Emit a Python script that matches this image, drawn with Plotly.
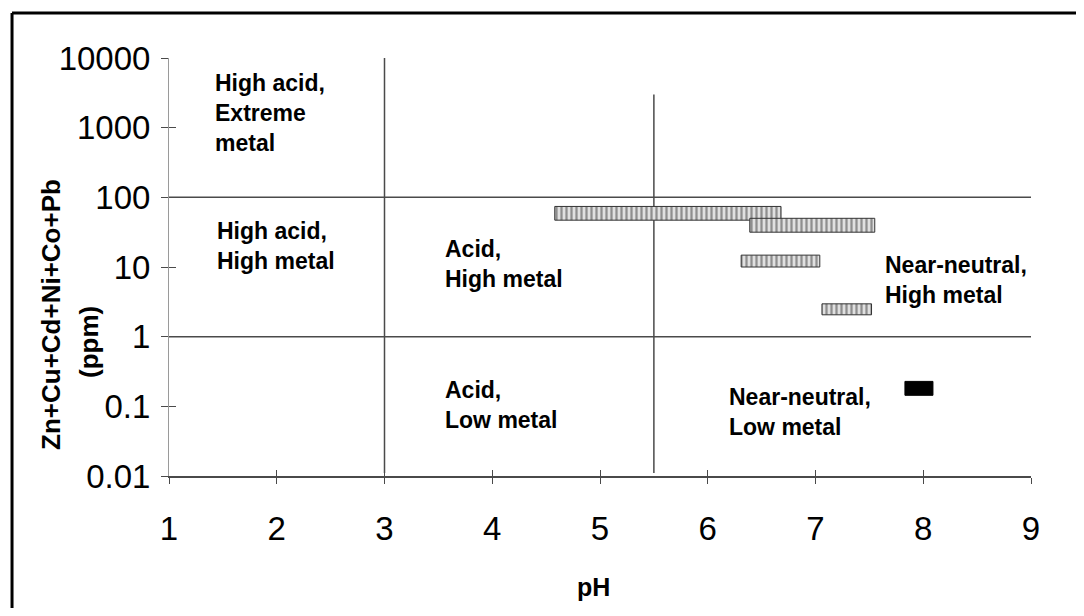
import math
import plotly.graph_objects as go

# ---- data ----
ph_low = [4.58, 6.39, 6.31, 7.06]
ph_high = [6.68, 7.55, 7.04, 7.52]
metal_low = [47, 31.6, 10, 2.06]
metal_high = [74, 50, 14.8, 2.96]

black_ph_low = [7.83]
black_ph_high = [8.09]
black_metal_low = [0.144]
black_metal_high = [0.228]

# region boundaries
vline_ph = [3, 5.5]
vline_top = [10000, 3000]
vline_bottom = [0.011, 0.011]
hline_metal = [1, 100]
hline_ph_start = [1, 1]
hline_ph_end = [9, 9]

region_labels = ["High acid,<br>Extreme<br>metal", "High acid,<br>High metal",
                 "Acid,<br>High metal", "Acid,<br>Low metal",
                 "Near-neutral,<br>Low metal", "Near-neutral,<br>High metal"]
region_ph = [1.41, 1.43, 3.54, 3.54, 6.18, 7.63]
region_metal = [1600, 20, 11, 0.105, 0.083, 6.5]

x_ticks = [1, 2, 3, 4, 5, 6, 7, 8, 9]
y_ticks = [0.01, 0.1, 1, 10, 100, 1000, 10000]
y_tick_text = ["0.01", "0.1", "1", "10", "100", "1000", "10000"]

y_title_lines = ["Zn+Cu+Cd+Ni+Co+Pb", "(ppm)"]
x_title = "pH"

FONT = "Liberation Sans, Arial, sans-serif"
LINE = "#4a4a4a"

fig = go.Figure()

# boundary lines
for x, t, b in zip(vline_ph, vline_top, vline_bottom):
    fig.add_trace(go.Scatter(x=[x, x], y=[b, t], mode="lines",
                             line=dict(color=LINE, width=1.5), hoverinfo="skip", showlegend=False))
for yv, xs, xe in zip(hline_metal, hline_ph_start, hline_ph_end):
    fig.add_trace(go.Scatter(x=[xs, xe], y=[yv, yv], mode="lines",
                             line=dict(color=LINE, width=1.5), hoverinfo="skip", showlegend=False))

# hatched range bars
for lo, hi, ml, mh in zip(ph_low, ph_high, metal_low, metal_high):
    fig.add_trace(go.Scatter(
        x=[lo, hi, hi, lo, lo], y=[ml, ml, mh, mh, ml], mode="lines",
        fill="toself", fillcolor="white",
        fillpattern=dict(shape="|", fgcolor="#3c3c3c", bgcolor="#e0e0e0", size=5, solidity=0.45),
        line=dict(color="#333333", width=1), hoverinfo="skip", showlegend=False))

for lo, hi, ml, mh in zip(black_ph_low, black_ph_high, black_metal_low, black_metal_high):
    fig.add_trace(go.Scatter(
        x=[lo, hi, hi, lo, lo], y=[ml, ml, mh, mh, ml], mode="lines",
        fill="toself", fillcolor="black",
        line=dict(color="black", width=1), hoverinfo="skip", showlegend=False))

# dummy trace for overlay axes (cross ticks)
fig.add_trace(go.Scatter(x=[1], y=[1], xaxis="x2", yaxis="y2", mode="markers",
                         marker=dict(opacity=0), hoverinfo="skip", showlegend=False))

for txt, x, y in zip(region_labels, region_ph, region_metal):
    fig.add_annotation(x=x, y=math.log10(y), text="<b>" + txt + "</b>", showarrow=False,
                       xanchor="left", yanchor="middle", align="left",
                       font=dict(family=FONT, size=23, color="black"))

fig.add_annotation(xref="paper", yref="paper", x=-0.1369, y=0.3876,
                   text="<b>" + y_title_lines[0] + "</b>", textangle=-90, showarrow=False,
                   xanchor="center", yanchor="middle",
                   font=dict(family=FONT, size=26, color="black"))
fig.add_annotation(xref="paper", yref="paper", x=-0.0928, y=0.3206,
                   text="<b>" + y_title_lines[1] + "</b>", textangle=-90, showarrow=False,
                   xanchor="center", yanchor="middle",
                   font=dict(family=FONT, size=26, color="black"))
fig.add_annotation(xref="paper", yref="paper", x=0.492, y=-0.2656,
                   text="<b>" + x_title + "</b>", showarrow=False, xanchor="center", yanchor="middle",
                   font=dict(family=FONT, size=25, color="black"))

fig.update_layout(
    width=1068, height=600,
    margin=dict(l=161, r=45, t=50, b=132),
    paper_bgcolor="white", plot_bgcolor="white",
    font=dict(family=FONT, color="black"),
    xaxis=dict(range=[1, 9], tickvals=x_ticks, showgrid=False, zeroline=False,
               showline=True, linecolor=LINE, linewidth=1.5,
               ticks="outside", ticklen=6, tickcolor=LINE, tickwidth=1,
               ticklabelstandoff=17,
               tickfont=dict(family=FONT, size=33, color="black")),
    yaxis=dict(type="log", range=[-2, 4], tickvals=y_ticks, ticktext=y_tick_text,
               showgrid=False, zeroline=False,
               showline=True, linecolor="#9a9a9a", linewidth=1,
               ticks="outside", ticklen=7, tickcolor=LINE, tickwidth=1,
               ticklabelstandoff=4,
               tickfont=dict(family=FONT, size=33, color="black")),
    xaxis2=dict(range=[1, 9], overlaying="x", tickvals=x_ticks, showticklabels=False,
                showgrid=False, zeroline=False, showline=False,
                ticks="inside", ticklen=6, tickcolor=LINE, tickwidth=1),
    yaxis2=dict(type="log", range=[-2, 4], overlaying="y", tickvals=y_ticks, showticklabels=False,
                showgrid=False, zeroline=False, showline=False,
                ticks="inside", ticklen=7, tickcolor=LINE, tickwidth=1),
    shapes=[
        dict(type="line", xref="paper", yref="paper", x0=-0.1821, x1=1.06, y0=1.1077, y1=1.1077,
             line=dict(color="black", width=3)),
        dict(type="line", xref="paper", yref="paper", x0=-0.1821, x1=-0.1821, y0=1.1077, y1=-0.32,
             line=dict(color="black", width=3)),
    ],
)

fig.write_html("out.html")
